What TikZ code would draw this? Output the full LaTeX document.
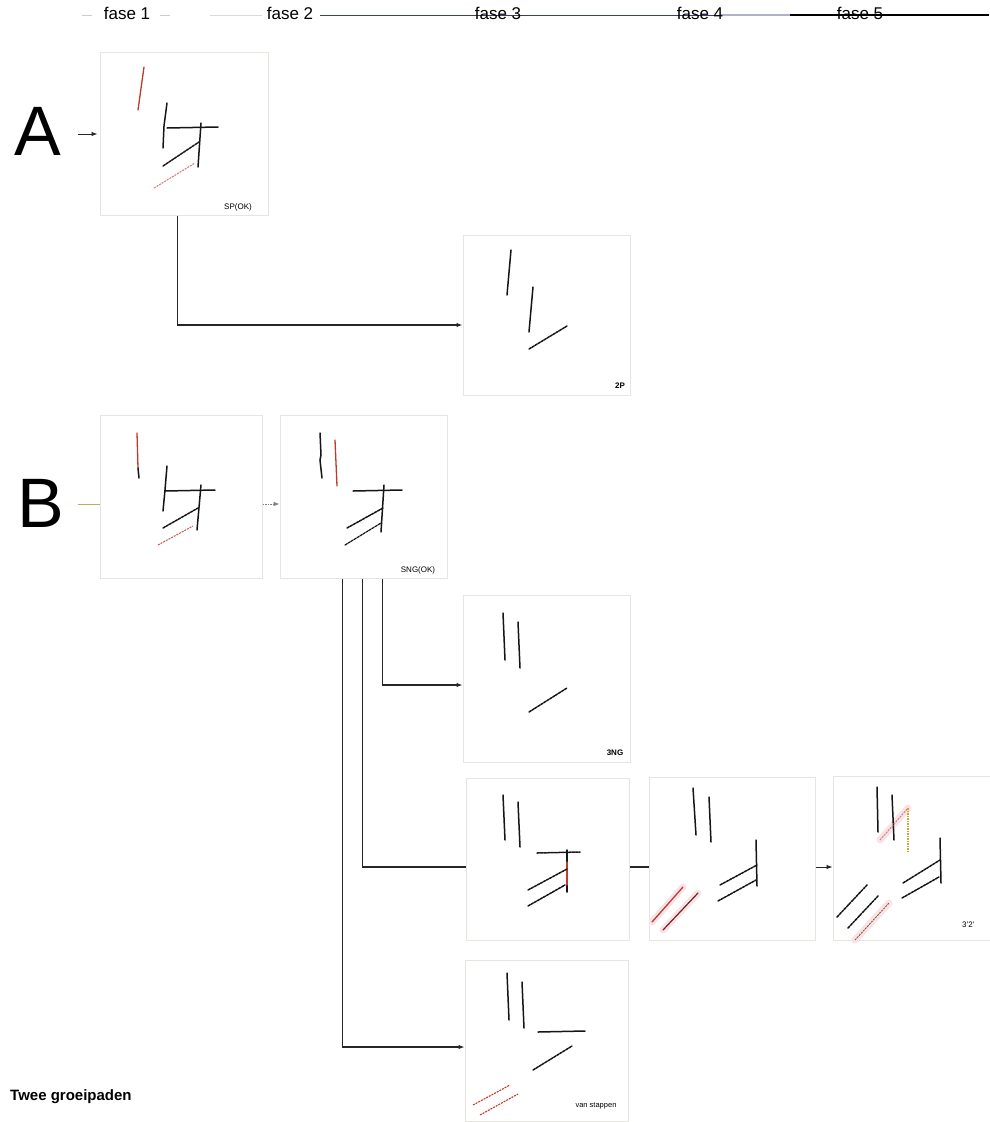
\documentclass[tikz,border=0pt]{standalone}
\usepackage{fontspec}
\setmainfont{Liberation Sans}
\usetikzlibrary{arrows.meta}
\definecolor{sk}{HTML}{151515}
\definecolor{skred}{HTML}{C0392B}
\definecolor{pinkred}{HTML}{D98080}
\definecolor{boxc}{HTML}{E6E6DE}
\definecolor{navy}{HTML}{3A3F6E}
\definecolor{olivec}{HTML}{B8B060}
\definecolor{orng}{HTML}{D8A030}
\definecolor{halo}{HTML}{F8E4E8}
\tikzset{
  stroke/.style={line width=1.5pt, line cap=round, draw=sk},
  dstroke/.style={stroke, dash pattern=on 2.5pt off 1pt},
  rstroke/.style={line width=1.3pt, line cap=round, draw=skred},
  rdstroke/.style={line width=1.1pt, draw=pinkred, dash pattern=on 2pt off 1pt},
  halostroke/.style={line width=7pt, line cap=round, draw=halo},
  frame/.style={draw=boxc, line width=1pt, inner sep=0pt},
  conn/.style={line width=1.1pt, draw=black!85},
  arr/.style={conn, -{Latex[length=6pt,width=4.5pt]}},
  lbl/.style={font=\fontsize{8}{8}\selectfont, inner sep=0pt},
  fase/.style={font=\fontsize{17}{17}\selectfont, inner sep=1pt},
  big/.style={font=\fontsize{70}{70}\selectfont, inner sep=0pt},
}
\begin{document}
\begin{tikzpicture}[x=1pt,y=-1pt]
\useasboundingbox[fill=white] (0,0) rectangle (989,1122);

% header
\draw[gray!40, line width=0.8pt] (82,15) -- (92,15) (160,15) -- (170,15);
\draw[gray!30, line width=0.8pt] (210,15) -- (262,15);
\draw[navy, line width=1pt] (320,15) -- (720,15);
\draw[navy!40, line width=1.2pt] (720,15) -- (790,15);
\draw[black, line width=1.3pt] (790,15) -- (989,15);
\node[fase] (f1) at (127,13) {fase 1};
\node[fase] (f2) at (290,13) {fase 2};
\node[fase] (f3) at (498,13) {fase 3};
\node[fase] (f4h) at (700,13) {fase 4};
\node[fase] (f5h) at (860,13) {fase 5};

% frames
\node[frame, minimum width=168pt, minimum height=163pt] (a1) at (184,133.5) {};
\node[frame, minimum width=167pt, minimum height=160pt] (p2) at (546.5,315) {};
\node[frame, minimum width=162pt, minimum height=163pt] (b1) at (181,496.5) {};
\node[frame, minimum width=167pt, minimum height=163pt] (b2) at (363.5,496.5) {};
\node[frame, minimum width=167pt, minimum height=167pt] (n3) at (546.5,678.5) {};
\node[frame, minimum width=163pt, minimum height=162pt] (s3a) at (547.5,859) {};
\node[frame, minimum width=166pt, minimum height=163pt] (f4) at (732,858.5) {};
\node[frame, minimum width=167pt, minimum height=164pt] (f5) at (916.5,858) {};
\node[frame, minimum width=163pt, minimum height=161pt] (vs) at (546.5,1040.5) {};

% big labels
\node[big] (labA) at (38,131) {A};
\node[big] (labB) at (41,503) {B};

% A1 content
\draw[rstroke] (144,67) -- (138,110);
\draw[stroke] (167,103) -- (164,126) -- (163,148);
\draw[stroke] (167,128) -- (218,127);
\draw[stroke] (201,123) -- (198,167);
\draw[dstroke] (163,166) -- (199,142);
\draw[rdstroke] (154,188) -- (195,163);
\node[lbl] (lsp) at (238,207) {SP(OK)};

% 2P content
\draw[stroke] (511,250) -- (507,295);
\draw[stroke] (533,287) -- (529,332);
\draw[dstroke] (529,349) -- (567,326);
\node[lbl, font=\fontsize{8}{8}\selectfont\bfseries] (l2p) at (620,386) {2P};

% B1 content
\draw[rstroke] (137,433) -- (138,468);
\draw[stroke] (138,468) -- (139,478);
\draw[stroke] (167,466) -- (165,490) -- (163,511);
\draw[stroke] (165,491) -- (215,490);
\draw[stroke] (201,485) -- (197,530);
\draw[dstroke] (163,528) -- (198,508);
\draw[rdstroke, draw=skred!80] (158,545) -- (193,526);

% B2 content
\draw[stroke] (320,433) -- (321,455) -- (320,460) -- (322,478);
\draw[rstroke] (335,440) -- (337,486);
\draw[stroke] (353,491) -- (402,490);
\draw[stroke] (384,485) -- (381,532);
\draw[dstroke] (347,528) -- (383,508);
\draw[dstroke, line width=1.2pt] (345,545) -- (381,523);
\node[lbl] (lsng) at (418,570) {SNG(OK)};

% 3NG content
\draw[stroke] (503,613) -- (505,660);
\draw[stroke] (518,622) -- (520,668);
\draw[dstroke] (529,712) -- (567,688);
\node[lbl, font=\fontsize{8}{8}\selectfont\bfseries] (l3ng) at (615,753) {3NG};

% fase 3 lower content
\draw[stroke] (503,795) -- (505,840);
\draw[stroke] (518,802) -- (520,847);
\draw[dstroke] (537,853) -- (580,852);
\draw[stroke] (567,850) -- (567,892);
\draw[rstroke] (567,862) -- (567,885);
\draw[dstroke] (528,890) -- (567,869);
\draw[dstroke] (528,906) -- (565,885);

% fase 4 content
\draw[halostroke] (652,922) -- (683,887);
\draw[halostroke] (663,930) -- (698,893);
\draw[stroke] (693,788) -- (696,835);
\draw[stroke] (709,797) -- (711,842);
\draw[stroke] (756,840) -- (757,886);
\draw[dstroke] (720,885) -- (757,865);
\draw[dstroke] (718,901) -- (756,880);
\draw[rstroke] (652,922) -- (683,887);
\draw[line width=1.2pt, line cap=round, draw=skred!60!black] (663,930) -- (698,893);

% fase 5 content
\draw[halostroke] (880,840) -- (908,808);
\draw[halostroke] (855,940) -- (889,903);
\draw[stroke] (877,787) -- (878,832);
\draw[stroke] (892,795) -- (894,840);
\draw[rdstroke] (880,840) -- (908,808);
\draw[line width=1.3pt, draw=orng, dash pattern=on 1.5pt off 1pt] (908,808) -- (908,852);
\draw[stroke] (940,838) -- (941,883);
\draw[dstroke] (903,883) -- (940,860);
\draw[dstroke] (902,898) -- (939,877);
\draw[dstroke] (837,917) -- (867,885);
\draw[dstroke] (848,928) -- (878,896);
\draw[line width=0.9pt, draw=brown!70!black, dash pattern=on 2pt off 1pt] (855,940) -- (889,903);
\node[lbl, anchor=west] (l5) at (962,925) {3'2'};

% van stappen content
\draw[stroke] (507,973) -- (509,1020);
\draw[stroke] (522,982) -- (524,1028);
\draw[stroke] (538,1032) -- (585,1031);
\draw[dstroke] (533,1070) -- (572,1046);
\draw[rdstroke, draw=skred] (473,1105) -- (510,1085);
\draw[rdstroke, draw=skred] (480,1115) -- (518,1094);
\node[lbl, font=\fontsize{7.5}{7.5}\selectfont] (lvs) at (596,1106) {van stappen};

% connectors
\draw[arr, line width=0.9pt] ([shift={(16,3)}]labA.east) -- ([shift={(-2,3)}]labA.east -| a1.west);
\draw[line width=1pt, draw=olivec] ([shift={(13,1)}]labB.east) -- ([shift={(0,1)}]labB.east -| b1.west);
\draw[arr, gray, line width=0.8pt, dash pattern=on 1.5pt off 1pt] ([yshift=-7.5pt]b1.east) -- ([yshift=-7.5pt]b2.west);
\draw[arr] ([xshift=78pt]a1.south west) |- ([yshift=-10pt]p2.west);
\draw[arr] ([xshift=103pt]b2.south west) |- ([yshift=-6.5pt]n3.west);
\draw[conn] ([xshift=83pt]b2.south west) |- ([yshift=-8pt]s3a.west);
\draw[arr] ([xshift=63pt]b2.south west) |- ([yshift=-6.5pt]vs.west);
\draw[conn] ([yshift=-8pt]s3a.east) -- ([yshift=-8pt]s3a.east -| f4.west);
\draw[arr, line width=0.8pt] ([yshift=-8.5pt]f4.east) -- ([yshift=-8.5pt]f4.east -| f5.west);

% caption
\node[anchor=west, inner sep=0pt, font=\fontsize{15}{15}\selectfont\bfseries] (cap) at (10,1097) {Twee groeipaden};
\end{tikzpicture}
\end{document}
